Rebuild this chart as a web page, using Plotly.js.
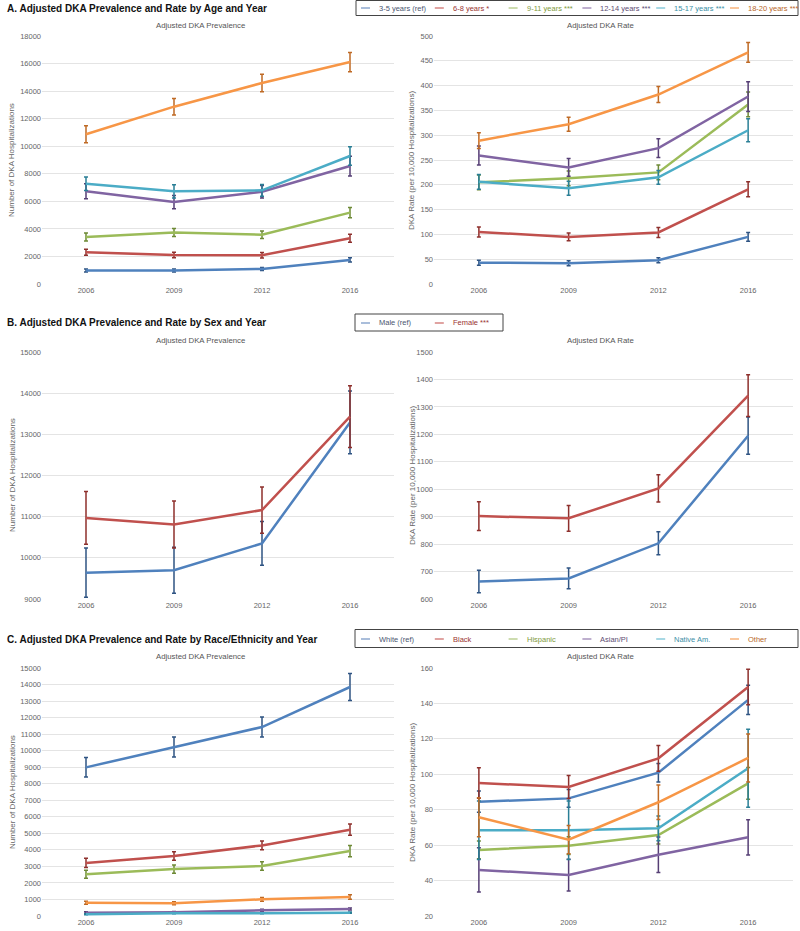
<!DOCTYPE html>
<html>
<head>
<meta charset="utf-8">
<script src="https://cdn.plot.ly/plotly-3.0.1.min.js"></script>
<style>html,body{margin:0;padding:0;background:#fff}#chart{width:800px;height:931px}</style>
</head>
<body>
<div id="chart"></div>
<script>
// ---------- data ----------
const years = ["2006", "2009", "2012", "2016"];

// Panel A: by age
const ageNames = ["3-5 years (ref)", "6-8 years *", "9-11 years ***", "12-14 years ***", "15-17 years ***", "18-20 years ***"];
const agePrev = [
  [980, 980, 1090, 1750],
  [2300, 2100, 2090, 3320],
  [3410, 3730, 3580, 5180],
  [6730, 5950, 6700, 8560],
  [7280, 6730, 6800, 9290],
  [10870, 12870, 14590, 16110]
];
const agePrevErr = [
  [100, 100, 110, 150],
  [220, 200, 200, 290],
  [290, 290, 270, 380],
  [540, 480, 450, 720],
  [490, 480, 430, 680],
  [620, 600, 640, 700]
];
const ageRate = [
  [43, 42, 48, 95],
  [105, 95, 104, 191],
  [205, 213, 225, 362],
  [259, 235, 274, 378],
  [206, 193, 215, 310],
  [289, 322, 382, 467]
];
const ageRateErr = [
  [5, 5, 5, 9],
  [10, 8, 10, 15],
  [15, 15, 15, 25],
  [19, 18, 19, 30],
  [15, 14, 14, 23],
  [16, 14, 16, 20]
];

// Panel B: by sex
const sexNames = ["Male (ref)", "Female ***"];
const sexPrev = [
  [9640, 9700, 10350, 13290],
  [10970, 10810, 11160, 13430]
];
const sexPrevErr = [
  [600, 560, 530, 760],
  [640, 570, 560, 750]
];
const sexRate = [
  [664, 675, 803, 1195],
  [902, 894, 1003, 1341]
];
const sexRateErr = [
  [41, 38, 42, 68],
  [52, 47, 50, 76]
];

// Panel C: by race/ethnicity
const raceNames = ["White (ref)", "Black", "Hispanic", "Asian/PI", "Native Am.", "Other"];
const racePrev = [
  [8990, 10220, 11430, 13850],
  [3210, 3630, 4270, 5220],
  [2520, 2840, 3020, 3930],
  [200, 222, 343, 423],
  [100, 160, 160, 200],
  [806, 766, 1008, 1149]
];
const racePrevErr = [
  [590, 610, 600, 810],
  [280, 260, 270, 340],
  [240, 250, 260, 340],
  [50, 50, 60, 60],
  [30, 30, 30, 40],
  [90, 90, 110, 130]
];
const raceRate = [
  [84.5, 86.4, 100.9, 142],
  [95.1, 92.8, 109, 149.3],
  [57.3, 59.7, 65.7, 94.9],
  [46, 43.1, 54.6, 64.4],
  [68.4, 68.4, 69.5, 103.4],
  [75.7, 63.1, 84.2, 109.2]
];
const raceRateErr = [
  [6, 5, 5.2, 8.3],
  [8.6, 6.5, 7.3, 10],
  [5, 5, 5, 9],
  [12.5, 9, 10, 10],
  [16.5, 16.5, 7, 22],
  [11, 8, 9.7, 13.5]
];

// ---------- styles ----------
const lineColors = ["#4F81BD", "#C0504D", "#9BBB59", "#8064A2", "#4BACC6", "#F79646"];
const errColors  = ["#2F5483", "#8E302D", "#6E8A36", "#563F75", "#2A7F96", "#BF6A25"];
const textColors = ["#4A5670", "#9A3431", "#7E9A3C", "#5E4D73", "#3A8FA6", "#B8672A"];
const keyColors  = ["#8EA9CF", "#D68482", "#BDD194", "#A895BE", "#8ACBDB", "#F8B47C"];

const FONT = "Liberation Sans, Arial, Helvetica, sans-serif";
const H = 931, W = 800;
const py = p => 1 - p / H;
const px = p => p / W;

const traces = [];
const shapes = [];
const ann = [];

function addGroup(names, prev, prevErr, rate, rateErr, axL, axR, legY) {
  names.forEach((nm, i) => {
    const c = i;
    [[prev, prevErr, axL], [rate, rateErr, axR]].forEach(([vals, errs, ax]) => {
      traces.push({
        type: "scatter", mode: "lines", x: years, y: vals[i], name: nm,
        xaxis: ax[0], yaxis: ax[1], showlegend: false,
        line: {color: lineColors[c], width: 2.5},
        error_y: {type: "data", array: errs[i], visible: true, color: errColors[c], thickness: 1.5, width: 2},
        hoverinfo: "skip"
      });
    });
    // legend key (line + coloured label)
    const tx = 377 + 73.8 * i;
    shapes.push({type: "line", xref: "paper", yref: "paper",
      x0: px(tx - 16), x1: px(tx - 7), y0: py(legY), y1: py(legY),
      line: {color: keyColors[c], width: 1.5}});
    ann.push({text: nm, x: px(tx), y: py(legY), xref: "paper", yref: "paper",
      xanchor: "left", yanchor: "middle", showarrow: false,
      font: {size: 7.5, color: textColors[c], family: FONT}});
  });
}

addGroup(ageNames, agePrev, agePrevErr, ageRate, ageRateErr, ["x", "y"], ["x2", "y2"], 8);
addGroup(sexNames, sexPrev, sexPrevErr, sexRate, sexRateErr, ["x3", "y3"], ["x4", "y4"], 323);
addGroup(raceNames, racePrev, racePrevErr, raceRate, raceRateErr, ["x5", "y5"], ["x6", "y6"], 639);

// legend boxes
[[356, 798, 0.5, 15.5], [355, 503, 314, 331], [355, 798, 629.5, 647.5]].forEach(([x0, x1, y0, y1]) => {
  shapes.push({type: "rect", xref: "paper", yref: "paper", x0: px(x0), x1: px(x1), y0: py(y0), y1: py(y1),
    line: {color: "#444", width: 1}, fillcolor: "rgba(0,0,0,0)", layer: "below"});
});

// ---------- layout ----------
const xL = [px(42), px(394)], xR = [px(434), px(793)];
const yA = [py(284), py(36)], yB = [py(599), py(352)], yC = [py(916), py(668)];

function xax(domain, anchor) {
  return {
    domain: domain, anchor: anchor, type: "category", range: [-0.5, 3.5],
    showgrid: false, zeroline: false, showline: false, ticks: "",
    tickfont: {size: 7.5, color: "#666", family: FONT}, fixedrange: true
  };
}
function yax(domain, anchor, range, dtick) {
  return {
    domain: domain, anchor: anchor, range: range, dtick: dtick, tick0: 0, tickformat: "d",
    showgrid: true, gridcolor: "#e4e4e4", gridwidth: 1, zeroline: false, showline: false,
    ticks: "", tickfont: {size: 7.5, color: "#666", family: FONT}, fixedrange: true
  };
}

function title(text, y) {
  ann.push({text: "<b>" + text + "</b>", x: px(5), y: py(y), xref: "paper", yref: "paper",
    xanchor: "left", yanchor: "middle", showarrow: false, font: {size: 10, color: "#111", family: FONT}});
}
function sub(text, x, y) {
  ann.push({text: text, x: px(x), y: py(y), xref: "paper", yref: "paper",
    xanchor: "center", yanchor: "middle", showarrow: false, font: {size: 7.8, color: "#555", family: FONT}});
}
function ytitle(text, x, yc) {
  ann.push({text: text, x: px(x), y: py(yc), xref: "paper", yref: "paper", textangle: -90,
    xanchor: "center", yanchor: "middle", showarrow: false, font: {size: 8, color: "#666", family: FONT}});
}

title("A. Adjusted DKA Prevalence and Rate by Age and Year", 8);
title("B. Adjusted DKA Prevalence and Rate by Sex and Year", 323);
title("C. Adjusted DKA Prevalence and Rate by Race/Ethnicity and Year", 639);

[25, 340, 656].forEach(y => {
  sub("Adjusted DKA Prevalence", 200, y);
  sub("Adjusted DKA Rate", 600, y);
});

[160, 475, 792].forEach(yc => {
  ytitle("Number of DKA Hospitalizations", 12, yc);
  ytitle("DKA Rate (per 10,000 Hospitalizations)", 412, yc);
});

const layout = {
  width: W, height: H,
  margin: {l: 0, r: 0, t: 0, b: 0},
  paper_bgcolor: "#fff", plot_bgcolor: "#fff",
  font: {family: FONT},
  showlegend: false,
  xaxis: xax(xL, "y"), yaxis: yax(yA, "x", [0, 18000], 2000),
  xaxis2: xax(xR, "y2"), yaxis2: yax(yA, "x2", [0, 500], 50),
  xaxis3: xax(xL, "y3"), yaxis3: yax(yB, "x3", [9000, 15000], 1000),
  xaxis4: xax(xR, "y4"), yaxis4: yax(yB, "x4", [600, 1500], 100),
  xaxis5: xax(xL, "y5"), yaxis5: yax(yC, "x5", [0, 15000], 1000),
  xaxis6: xax(xR, "y6"), yaxis6: yax(yC, "x6", [20, 160], 20),
  annotations: ann,
  shapes: shapes
};

Plotly.newPlot("chart", traces, layout, {displayModeBar: false, staticPlot: true});
</script>
</body>
</html>
